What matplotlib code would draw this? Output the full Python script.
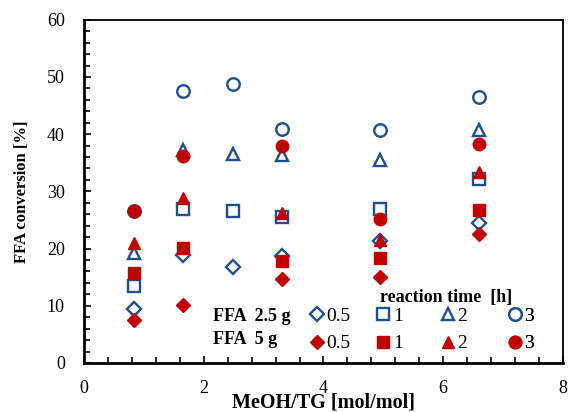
import matplotlib.pyplot as plt
from matplotlib.ticker import MultipleLocator

plt.rcParams['font.family'] = ['Liberation Serif', 'DejaVu Serif']

# MeOH/TG ratio [mol/mol]
x = [0.83, 1.65, 2.48, 3.3, 4.95, 6.6]
x5 = [0.83, 1.65, 3.3, 4.95, 6.6]   # FFA 5 g, no run at 2.48

# FFA 2.5 g, conversion [%] for 0.5, 1, 2, 3 h
g25_05 = [9.4, 18.8, 16.7, 18.7, 21.3, 24.4]
g25_1 = [13.4, 27.0, 26.6, 25.6, 26.9, 32.1]
g25_2 = [19.2, 37.2, 36.6, 36.3, 35.4, 40.7]
g25_3 = [26.6, 47.6, 48.8, 40.9, 40.8, 46.5]

# FFA 5 g
g5_05 = [7.5, 10.2, 14.7, 15.0, 22.5]
g5_1 = [15.8, 20.1, 17.8, 18.4, 26.8]
g5_2 = [21.0, 28.9, 26.3, 21.5, 33.3]
g5_3 = [26.6, 36.1, 38.0, 25.2, 38.2]

times = ['0.5', '1', '2', '3']
markers = ['D', 's', '^', 'o']
sizes = [7.5, 8.5, 8.5, 9]
blue = '#1f4e8c'
red = '#c00000'

fig = plt.figure(figsize=(5.69, 4.12), dpi=100)
ax = fig.add_axes([0.148, 0.119, 0.841, 0.833])

open_h = []
for ys, m, ms, t in zip([g25_05, g25_1, g25_2, g25_3], markers, sizes, times):
    h, = ax.plot(x, ys, linestyle='none', marker=m, ms=ms, mfc='white',
                 mec=blue, mew=1.7, label=t)
    open_h.append(h)
fill_h = []
for ys, m, ms, t in zip([g5_05, g5_1, g5_2, g5_3], markers, sizes, times):
    h, = ax.plot(x5, ys, linestyle='none', marker=m, ms=ms, mfc=red,
                 mec=red, mew=1, label=t)
    fill_h.append(h)

ax.set_xlim(0, 8)
ax.set_ylim(0, 60)
ax.xaxis.set_major_locator(MultipleLocator(2))
ax.xaxis.set_minor_locator(MultipleLocator(0.4))
ax.yaxis.set_major_locator(MultipleLocator(10))
ax.yaxis.set_minor_locator(MultipleLocator(2))
ax.tick_params(which='both', direction='in', labelsize=13, width=1.2,
               top=False, right=False, pad=14)
ax.tick_params(axis='x', which='both', pad=12)
ax.tick_params(which='major', length=5)
ax.tick_params(which='minor', length=4)
for s in ['left', 'bottom']:
    ax.spines[s].set_linewidth(2)
for s in ['top', 'right']:
    ax.spines[s].set_linewidth(1.3)

ax.set_xlabel('MeOH/TG [mol/mol]', fontsize=14.5, fontweight='bold', labelpad=-3)
ax.set_ylabel('FFA conversion [%]', fontsize=12, fontweight='bold', labelpad=12)

# legend: one small legend per reaction time, 2.5 g on top, 5 g below
leg_x = [0.4655, 0.605, 0.739, 0.879]
for i, t in enumerate(times):
    leg = ax.legend(handles=[open_h[i], fill_h[i]], labels=[t, t],
                    loc='center left', bbox_to_anchor=(leg_x[i], 0.096),
                    frameon=False, fontsize=14, handlelength=1.0,
                    handletextpad=0.0, labelspacing=0.5, borderpad=0,
                    borderaxespad=0)
    ax.add_artist(leg)

ax.text(0.27, 0.134, 'FFA  2.5 g', transform=ax.transAxes, fontsize=13,
        fontweight='bold', va='center')
ax.text(0.27, 0.067, 'FFA  5 g', transform=ax.transAxes, fontsize=13,
        fontweight='bold', va='center')
ax.text(0.618, 0.19, 'reaction time  [h]', transform=ax.transAxes, fontsize=13,
        fontweight='bold', va='center')

plt.savefig('out.png', dpi=100)
